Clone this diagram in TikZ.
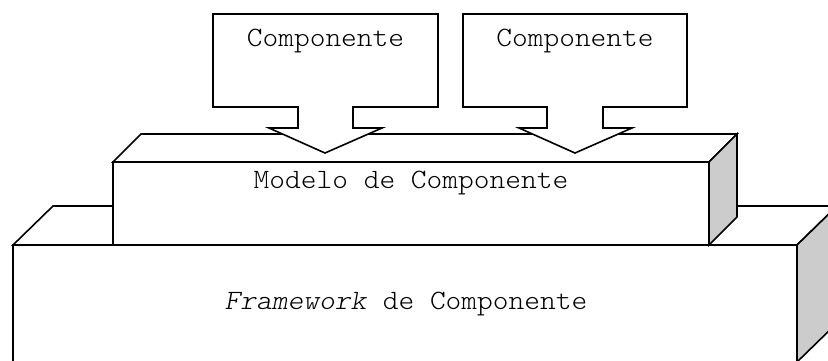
\documentclass[tikz,border=0pt]{standalone}
\usepackage{fontspec}
\setmonofont{lmmonolt10-regular.otf}[FakeStretch=1.07,ItalicFont=lmmonolt10-oblique.otf]
\begin{document}
\begin{tikzpicture}[x=1pt,y=-1pt,
  edge/.style={draw=black,line width=1.6pt,line join=miter},
  face/.style={edge,fill=white},
  sideface/.style={edge,fill=black!20},
  label/.style={font=\ttfamily\fontsize{28}{32}\selectfont,anchor=base,inner sep=0pt}]
\useasboundingbox (0,0) rectangle (828,360);
\clip (0,0) rectangle (828,360);

% Framework block (lower box)
\coordinate (fA) at (13,245);
\coordinate (fB) at (797,245);
\coordinate (fC) at (797,362);
\coordinate (fD) at (13,362);
\path[face] (fA) -- ++(40,-39) -- ++(784,0) -- (fB) -- cycle;
\path[sideface] (fB) -- ++(40,-39) -- ++(0,117) -- (fC) -- cycle;
\path[face] (fA) rectangle (fC);

% Component model block (upper box)
\coordinate (mA) at (113,162);
\coordinate (mB) at (709,162);
\coordinate (mC) at (709,245);
\path[face] (mA) -- ++(28,-28) -- ++(596,0) -- (mB) -- cycle;
\path[sideface] (mB) -- ++(28,-28) -- ++(0,83) -- (mC) -- cycle;
\path[face] (mA) rectangle (mC);

% Component callouts with arrow pointing down into the model
\path[face] (213,14) -- (438,14) -- (438,107) -- (353,107) -- (353,128)
  -- (382,128) -- (325,153) -- (269,128) -- (298,128) -- (298,107)
  -- (213,107) -- cycle;
\path[face] (463,14) -- (687,14) -- (687,107) -- (603,107) -- (603,128)
  -- (632,128) -- (575,153) -- (519,128) -- (547,128) -- (547,107)
  -- (463,107) -- cycle;

\node[label] (comp1) at (325.5,46) {Componente};
\node[label] (comp2) at (575,46) {Componente};
\node[label] (model) at (411,188) {Modelo de Componente};
\node[label] (frame) at (406,309) {\textit{Framework} de Componente};
\end{tikzpicture}
\end{document}
